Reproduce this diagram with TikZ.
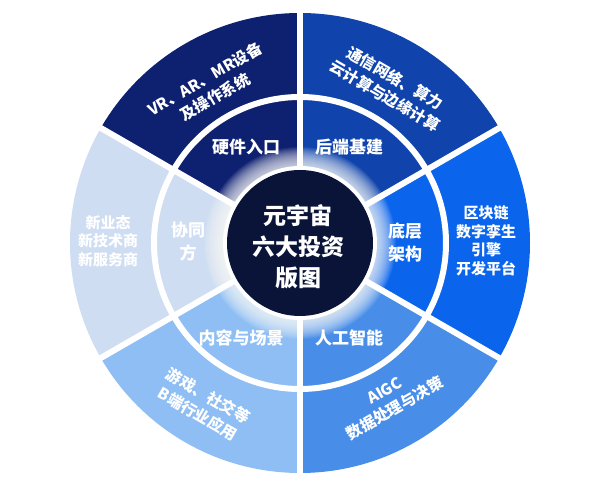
\documentclass[tikz,border=0pt]{standalone}
\usepackage{fontspec}
\setmainfont{Noto Sans CJK SC}
\definecolor{cA}{RGB}{14,32,112}
\definecolor{cB}{RGB}{16,68,172}
\definecolor{cC}{RGB}{10,100,236}
\definecolor{cD}{RGB}{72,142,232}
\definecolor{cE}{RGB}{142,190,244}
\definecolor{cF}{RGB}{206,221,242}
\definecolor{cCenter}{RGB}{9,20,56}
\tikzset{
  outertxt/.style={text=white, font=\fontsize{15.5}{20.5}\selectfont\bfseries, align=center, inner sep=0pt},
  sidetxt/.style={text=white, font=\fontsize{15}{18.5}\selectfont\bfseries, align=center, inner sep=0pt},
  innertxt/.style={text=white, font=\fontsize{17}{23}\selectfont\bfseries, align=center, inner sep=0pt},
  centertxt/.style={text=white, font=\fontsize{23}{31}\selectfont\bfseries, align=center, inner sep=0pt},
  gapline/.style={draw=white, line width=6pt},
}
\begin{document}
\begin{tikzpicture}[x=1pt,y=1pt]
\useasboundingbox (0,0) rectangle (600,481);
\fill[white] (0,0) rectangle (600,481);
\begin{scope}[shift={(300,238)}]
  \foreach \a/\b/\c in {90/150/cA, 30/90/cB, -30/30/cC, -90/-30/cD, 210/270/cE, 150/210/cF}
    \fill[\c] (0,0) -- (\a:230pt) arc[start angle=\a, end angle=\b, radius=230pt] -- cycle;
  \draw[gapline] (0,0) circle[radius=146pt];
  \foreach \a in {30,90,150,210,270,330}
    \draw[gapline] (0,0) -- (\a:236pt);
  \foreach \r in {96,95,...,77}
    \fill[white, opacity=0.07] (0,0) circle[radius=\r pt];
  \fill[white] (0,0) circle[radius=77pt];
  \fill[cCenter] (0,0) circle[radius=73pt];

  \node[centertxt] (center) at (-2,-4) {元宇宙\\六大投资\\版图};

  \node[innertxt] (hw) at (-54,96) {硬件入口};
  \node[innertxt] (be) at (49,96) {后端基建};
  \node[innertxt] (base) at (105,1) {底层\\架构};
  \node[innertxt] (ai) at (49,-95) {人工智能};
  \node[innertxt] (content) at (-59,-95) {内容与场景};
  \node[innertxt] (coop) at (-112,1) {协同\\方};

  \node[outertxt, rotate=30] (o1) at (-90,155) {VR、AR、MR设备\\及操作系统};
  \node[outertxt, rotate=-30] (o2) at (90,156) {通信网络、算力\\云计算与边缘计算};
  \node[sidetxt] (o3) at (186,2) {区块链\\数字孪生\\引擎\\开发平台};
  \node[outertxt, rotate=30] (o4) at (90,-157) {AIGC\\数据处理与决策};
  \node[outertxt, rotate=-30] (o5) at (-97,-162) {游戏、社交等\\B端行业应用};
  \node[sidetxt] (o6) at (-192,2) {新业态\\新技术商\\新服务商};
\end{scope}
\end{tikzpicture}
\end{document}
